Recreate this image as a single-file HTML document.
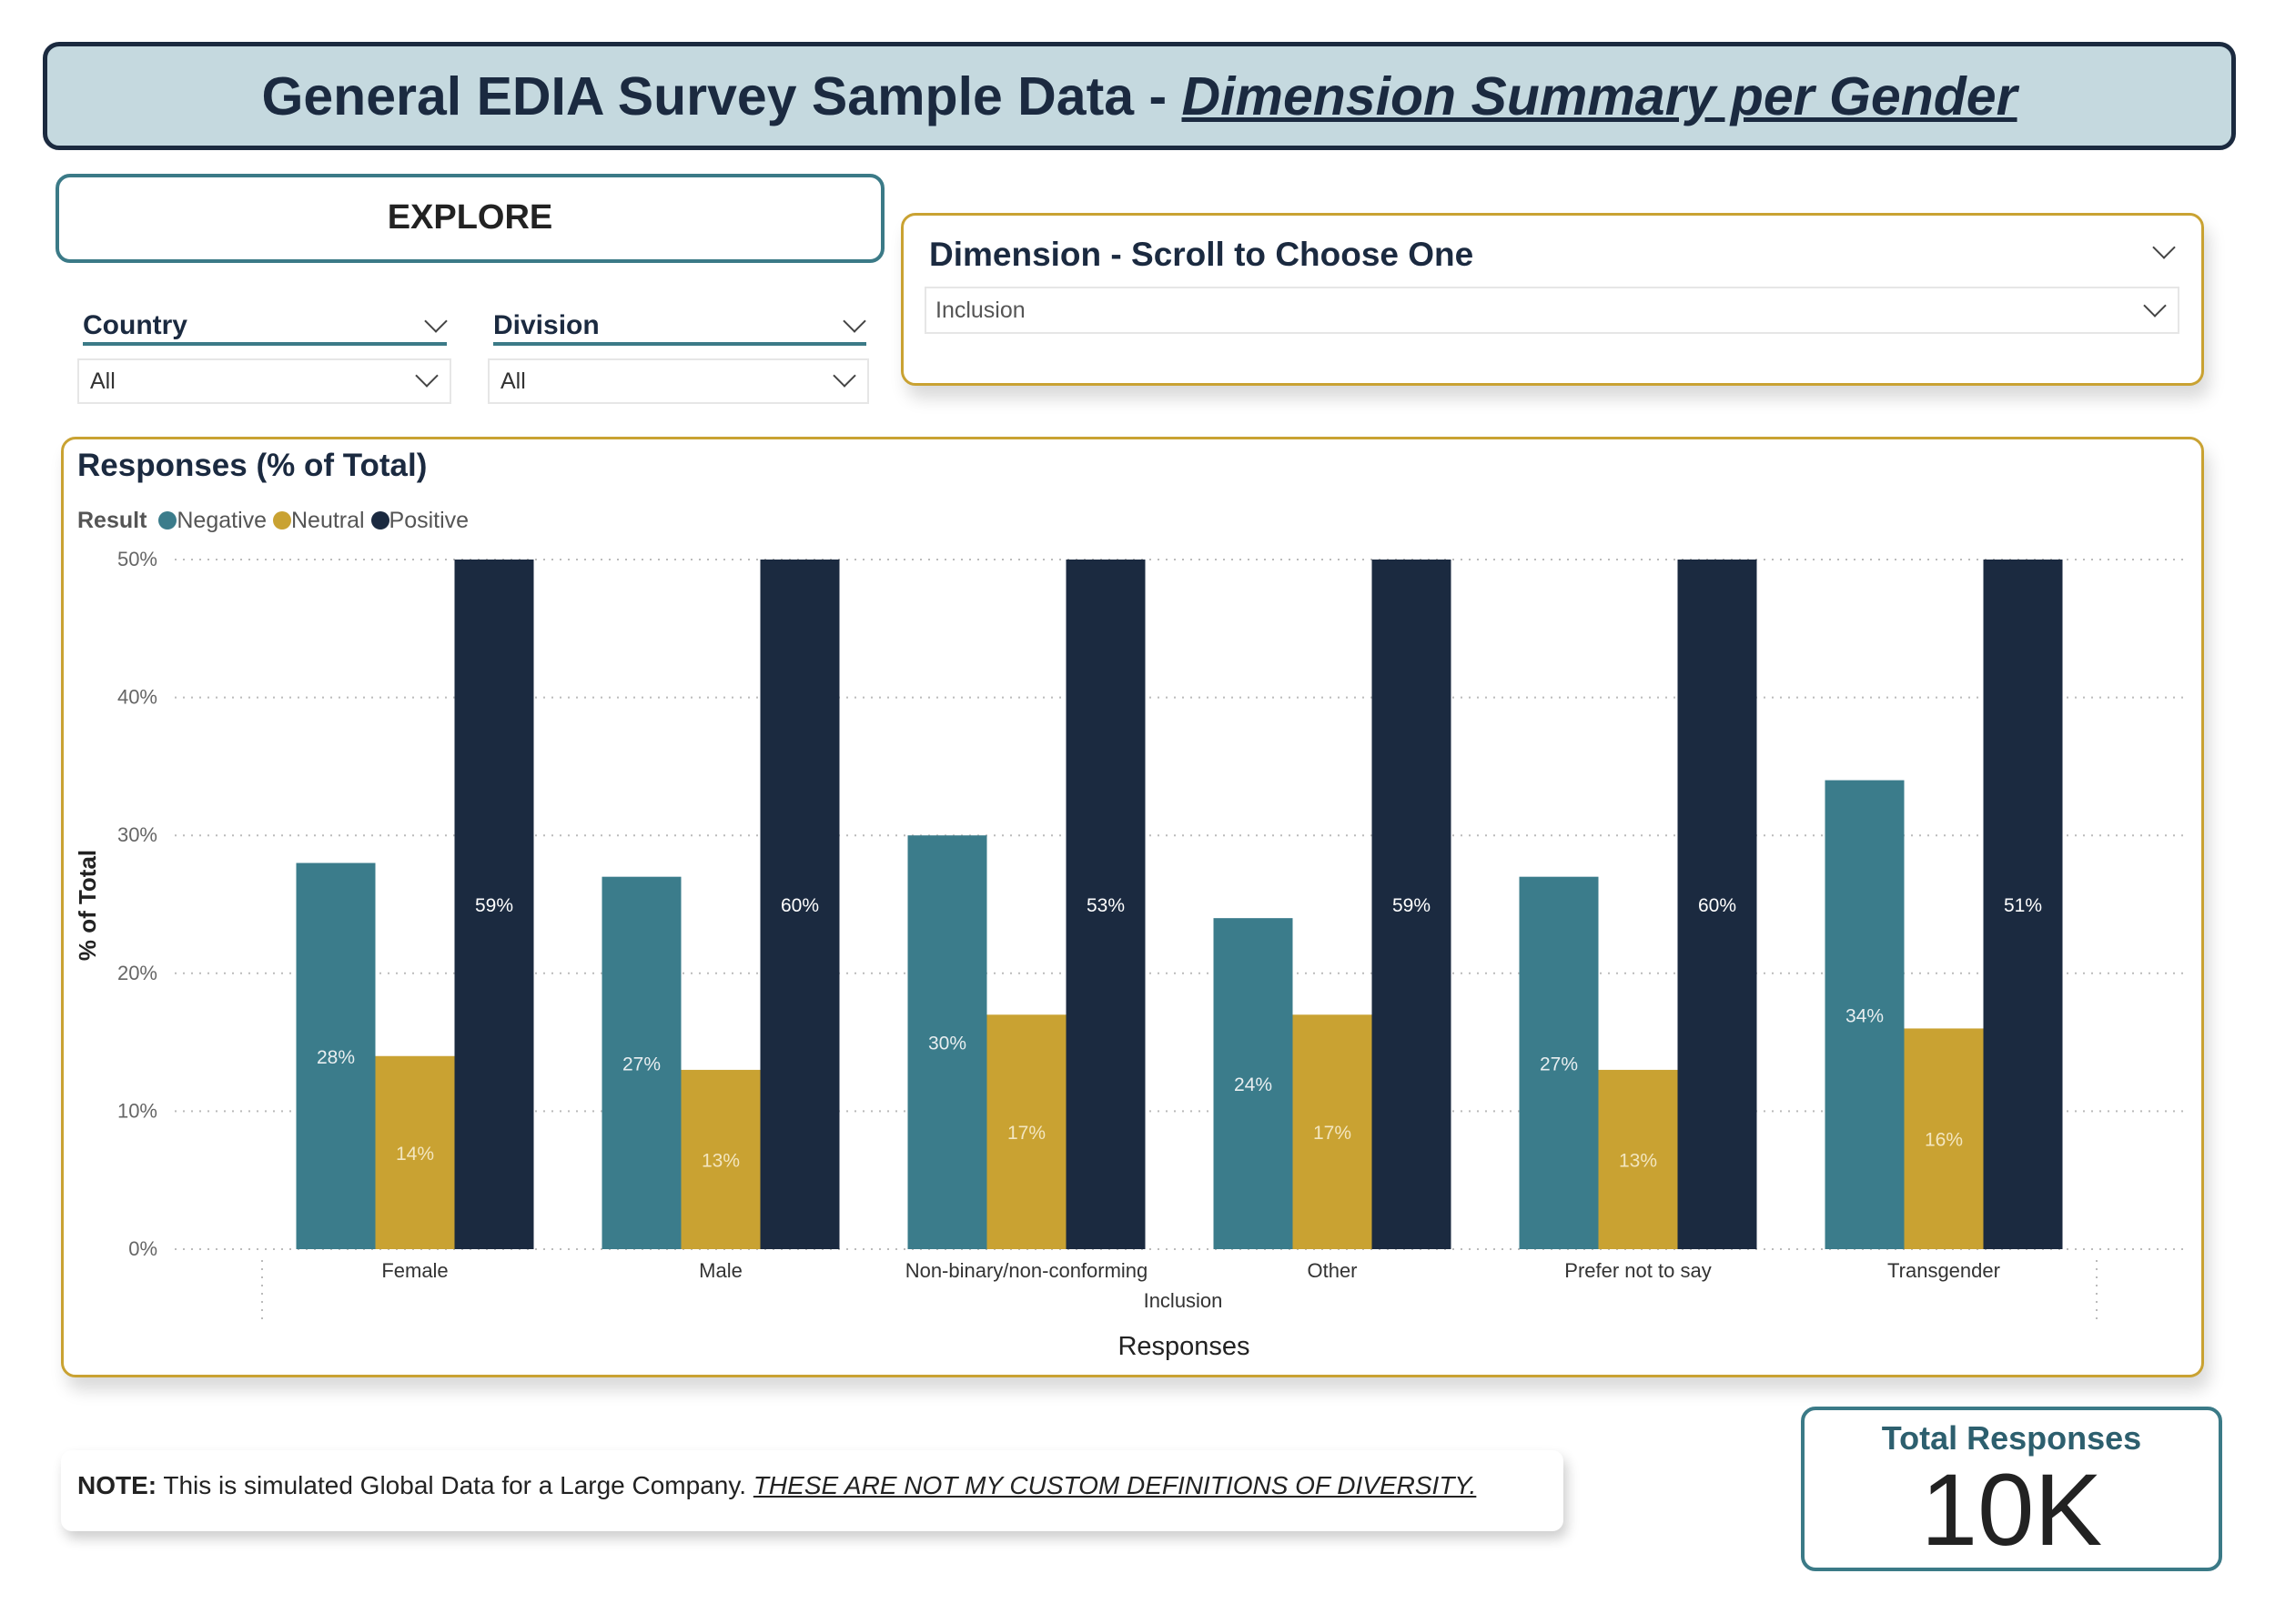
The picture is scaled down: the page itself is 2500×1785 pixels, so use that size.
<!DOCTYPE html>
<html><head><meta charset="utf-8">
<style>
body{margin:0;width:2500px;height:1785px;background:#fff;position:relative;overflow:hidden;font-family:"Liberation Sans",sans-serif;color:#1b2a40}
.abs{position:absolute;box-sizing:border-box}
.chev{position:absolute;width:16px;height:16px;border-right:2.5px solid #444;border-bottom:2.5px solid #444;transform:rotate(45deg)}
</style></head><body>
<div class="abs" style="left:47px;top:46px;width:2410px;height:119px;background:#c5d9df;border:5px solid #1b2a3f;border-radius:18px;text-align:center;line-height:110px;font-size:59px;font-weight:bold;color:#1b2a40">General EDIA Survey Sample Data - <i style="text-decoration:underline">Dimension Summary per Gender</i></div>

<div class="abs" style="left:61px;top:191px;width:911px;height:98px;border:4px solid #3b7a87;border-radius:16px;text-align:center;line-height:88px;font-size:38px;font-weight:bold;color:#222">EXPLORE</div>

<div class="abs" style="left:91px;top:341px;font-size:30px;font-weight:bold">Country</div>
<div class="chev" style="left:470px;top:344px"></div>
<div class="abs" style="left:91px;top:376px;width:400px;height:4px;background:#3b7a87"></div>
<div class="abs" style="left:85px;top:394px;width:411px;height:50px;border:2px solid #e6e6e6;font-size:25px;line-height:46px;padding-left:12px;color:#333">All<div class="chev" style="left:373px;top:8px"></div></div>

<div class="abs" style="left:542px;top:341px;font-size:30px;font-weight:bold">Division</div>
<div class="chev" style="left:930px;top:344px"></div>
<div class="abs" style="left:542px;top:376px;width:410px;height:4px;background:#3b7a87"></div>
<div class="abs" style="left:536px;top:394px;width:419px;height:50px;border:2px solid #e6e6e6;font-size:25px;line-height:46px;padding-left:12px;color:#333">All<div class="chev" style="left:381px;top:8px"></div></div>

<div class="abs" style="left:990px;top:234px;width:1432px;height:190px;border:3px solid #c9a232;border-radius:16px;box-shadow:6px 14px 18px rgba(0,0,0,0.15);background:#fff">
  <div class="abs" style="left:28px;top:22px;font-size:37px;font-weight:bold">Dimension - Scroll to Choose One</div>
  <div class="chev" style="left:1376px;top:26px"></div>
  <div class="abs" style="left:23px;top:78px;width:1379px;height:52px;border:2px solid #e6e6e6;font-size:25px;line-height:48px;padding-left:10px;color:#555">Inclusion<div class="chev" style="left:1341px;top:10px"></div></div>
</div>

<div class="abs" style="left:67px;top:480px;width:2355px;height:1034px;border:3px solid #c9a232;border-radius:16px;box-shadow:6px 14px 18px rgba(0,0,0,0.15);background:#fff"></div>
<div class="abs" style="left:85px;top:492px;font-size:35px;font-weight:bold">Responses (% of Total)</div>
<div class="abs" style="left:85px;top:558px;font-size:25px;color:#555;white-space:nowrap">
 <b>Result</b>
 <span><span style="display:inline-block;width:20px;height:20px;border-radius:50%;background:#3b7c8b;vertical-align:-2px;margin-left:6px"></span>Negative</span>
 <span><span style="display:inline-block;width:20px;height:20px;border-radius:50%;background:#c9a232;vertical-align:-2px"></span>Neutral</span>
 <span><span style="display:inline-block;width:20px;height:20px;border-radius:50%;background:#1b2a40;vertical-align:-2px"></span>Positive</span>
</div>

<svg class="abs" style="left:0;top:0" width="2500" height="1785" id="chart"></svg>

<div class="abs" style="left:67px;top:1594px;width:1651px;height:89px;border-radius:12px;box-shadow:4px 8px 14px rgba(0,0,0,0.2);background:#fff;font-size:28px;line-height:78px;padding-left:18px;color:#222"><b>NOTE:</b> This is simulated Global Data for a Large Company. <i style="text-decoration:underline">THESE ARE NOT MY CUSTOM DEFINITIONS OF DIVERSITY.</i></div>

<div class="abs" style="left:1979px;top:1546px;width:463px;height:181px;border:4px solid #3b7a87;border-radius:16px;text-align:center">
 <div style="font-size:36px;font-weight:bold;color:#2d5f6e;margin-top:10px">Total Responses</div>
 <div style="font-size:112px;line-height:116px;color:#222">10K</div>
</div>

<script>
const categories=["Female","Male","Non-binary/non-conforming","Other","Prefer not to say","Transgender"];
const negative=[28,27,30,24,27,34];
const neutral=[14,13,17,17,13,16];
const positive=[59,60,53,59,60,51];
const yTicks=[0,10,20,30,40,50];
const seriesNames=["Negative","Neutral","Positive"];
const NS="http://www.w3.org/2000/svg";
const svg=document.getElementById("chart");
const yMax=50,y0=1373,y50=615,plotL=192,plotR=2402,catL=288,band=336,barW=87;
const yS=v=>y0-(Math.min(v,yMax)/yMax)*(y0-y50);
const xC=i=>catL+band*i+band/2;
function mk(t,a,txt){const e=document.createElementNS(NS,t);for(const k in a)e.setAttribute(k,a[k]);if(txt!==undefined)e.textContent=txt;svg.appendChild(e);return e;}
yTicks.forEach(t=>{
 const g=mk("line",{x1:plotL,x2:plotR,y1:yS(t),y2:yS(t),stroke:"#bbb","stroke-width":2,"stroke-dasharray":"2 7"});
 
 
 const l=mk("text",{x:173,y:yS(t)+7,"text-anchor":"end","font-size":22,fill:"#666","font-family":"Liberation Sans"},t+"%");
 
 
});
[catL,catL+band*categories.length].forEach(x=>{
 const v=mk("line",{x1:x,x2:x,y1:1385,y2:1452,stroke:"#bbb","stroke-width":2,"stroke-dasharray":"2 7"});
 
 
});
const colors=["#3b7c8b","#c9a232","#1b2a40"];
const labelColors=["#e8eef0","#f3e6c0","#ffffff"];
const series=[negative,neutral,positive];
categories.forEach((c,i)=>{
 series.forEach((s,k)=>{
  const x=xC(i)-1.5*barW+k*barW, top=yS(s[i]);
  const r=mk("rect",{x:x,y:top,width:barW,height:y0-top,fill:colors[k]});
  
  
  const t=mk("text",{x:x+barW/2,y:(top+y0)/2+8,"text-anchor":"middle","font-size":21,fill:labelColors[k],"font-family":"Liberation Sans"},s[i]+"%");
  
  
 });
 const xl=mk("text",{x:xC(i),y:1404,"text-anchor":"middle","font-size":22,fill:"#333","font-family":"Liberation Sans"},c);
 
 
});
const inc=mk("text",{x:1300,y:1437,"text-anchor":"middle","font-size":22,fill:"#333","font-family":"Liberation Sans"},"Inclusion");


const xt=mk("text",{x:1301,y:1489,"text-anchor":"middle","font-size":29,fill:"#222","font-family":"Liberation Sans"},"Responses");


const yt=mk("text",{x:0,y:0,"text-anchor":"middle","font-size":26,"font-weight":"bold",fill:"#222","font-family":"Liberation Sans",transform:"translate(105,995) rotate(-90)"},"% of Total");


</script>
</body></html>
